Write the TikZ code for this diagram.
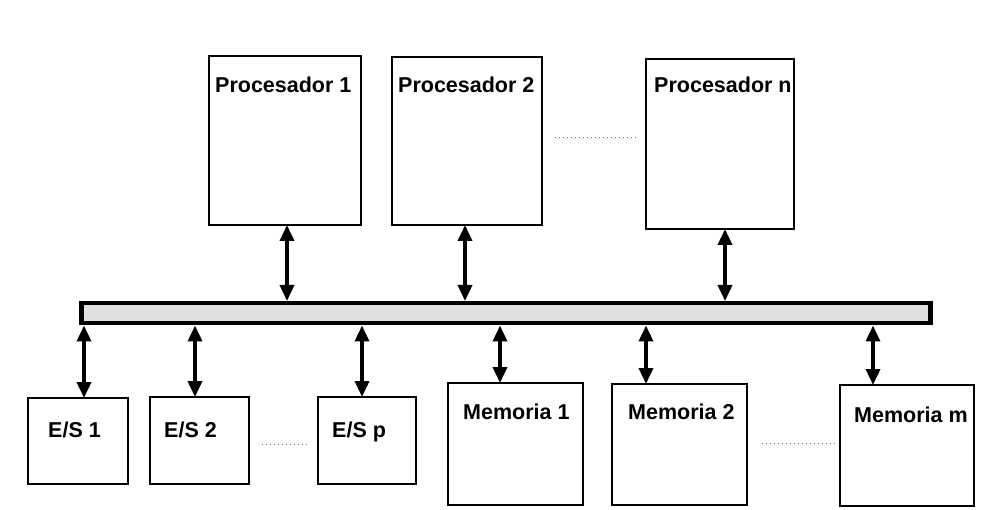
\documentclass[tikz,border=0pt]{standalone}
\usepackage{fontspec}
\setmainfont{Liberation Sans}
\usetikzlibrary{arrows.meta}
\tikzset{
  unit/.style={draw=black, line width=2.6pt, fill=white, anchor=north west,
    inner sep=0pt, outer sep=0pt},
  caption/.style={anchor=base west, inner sep=0pt,
    font=\fontsize{21.5}{25}\selectfont\bfseries},
  busbar/.style={draw=black, line width=4.5pt, fill=black!12, anchor=north west,
    inner sep=0pt, outer sep=2.25pt},
  link/.style={line width=3.6pt,
    {Triangle[width=14pt,length=16pt]}-{Triangle[width=14pt,length=16pt]}},
  etc/.style={draw=black!55, line width=0.9pt, dash pattern=on 1.4pt off 2.6pt}
}
\begin{document}
\begin{tikzpicture}[x=1pt, y=-1pt]
\useasboundingbox (0,0) rectangle (1006,510);

% processors
\node[unit, minimum width=152pt, minimum height=169pt] (p1) at (209,56) {};
\node[unit, minimum width=150pt, minimum height=168pt] (p2) at (392,57) {};
\node[unit, minimum width=148pt, minimum height=170pt] (pn) at (646,59) {};
\node[caption] (p1t) at (215,93) {Procesador 1};
\node[caption] (p2t) at (398,93) {Procesador 2};
\node[caption] (pnt) at (654,93) {Procesador n};

% system bus
\node[busbar, minimum width=849pt, minimum height=20pt] (bus) at (79,301) {};

% input/output units
\node[unit, minimum width=100pt, minimum height=86pt] (es1) at (28,398) {};
\node[unit, minimum width=99pt, minimum height=87pt] (es2) at (150,397) {};
\node[unit, minimum width=98pt, minimum height=87pt] (esp) at (318,397) {};
\node[caption] (es1t) at (48,437) {E/S 1};
\node[caption] (es2t) at (164,437) {E/S 2};
\node[caption] (espt) at (332,437) {E/S p};

% memory modules
\node[unit, minimum width=135pt, minimum height=122pt] (m1) at (448,383) {};
\node[unit, minimum width=135pt, minimum height=121pt] (m2) at (612,384) {};
\node[unit, minimum width=134pt, minimum height=121pt] (mm) at (840,385) {};
\node[caption] (m1t) at (463,419) {Memoria 1};
\node[caption] (m2t) at (628,419) {Memoria 2};
\node[caption] (mmt) at (854,422) {Memoria m};

% x positions of the bus taps
\coordinate (xp1) at (287,0);
\coordinate (xp2) at (465,0);
\coordinate (xpn) at (725,0);
\coordinate (xe1) at (84,0);
\coordinate (xe2) at (195,0);
\coordinate (xep) at (362,0);
\coordinate (xm1) at (500,0);
\coordinate (xm2) at (646,0);
\coordinate (xmm) at (873,0);

% bus connections
\draw[link] (p1.south -| xp1) -- (bus.north -| xp1);
\draw[link] (p2.south -| xp2) -- (bus.north -| xp2);
\draw[link] (pn.south -| xpn) -- (bus.north -| xpn);
\draw[link] (bus.south -| xe1) -- (es1.north -| xe1);
\draw[link] (bus.south -| xe2) -- (es2.north -| xe2);
\draw[link] (bus.south -| xep) -- (esp.north -| xep);
\draw[link] (bus.south -| xm1) -- (m1.north -| xm1);
\draw[link] (bus.south -| xm2) -- (m2.north -| xm2);
\draw[link] (bus.south -| xmm) -- (mm.north -| xmm);

% ellipses between repeated units
\draw[etc] (555,137) -- (637,137);
\draw[etc] (262,444) -- (308,444);
\draw[etc] (762,443) -- (835,443);
\end{tikzpicture}
\end{document}
